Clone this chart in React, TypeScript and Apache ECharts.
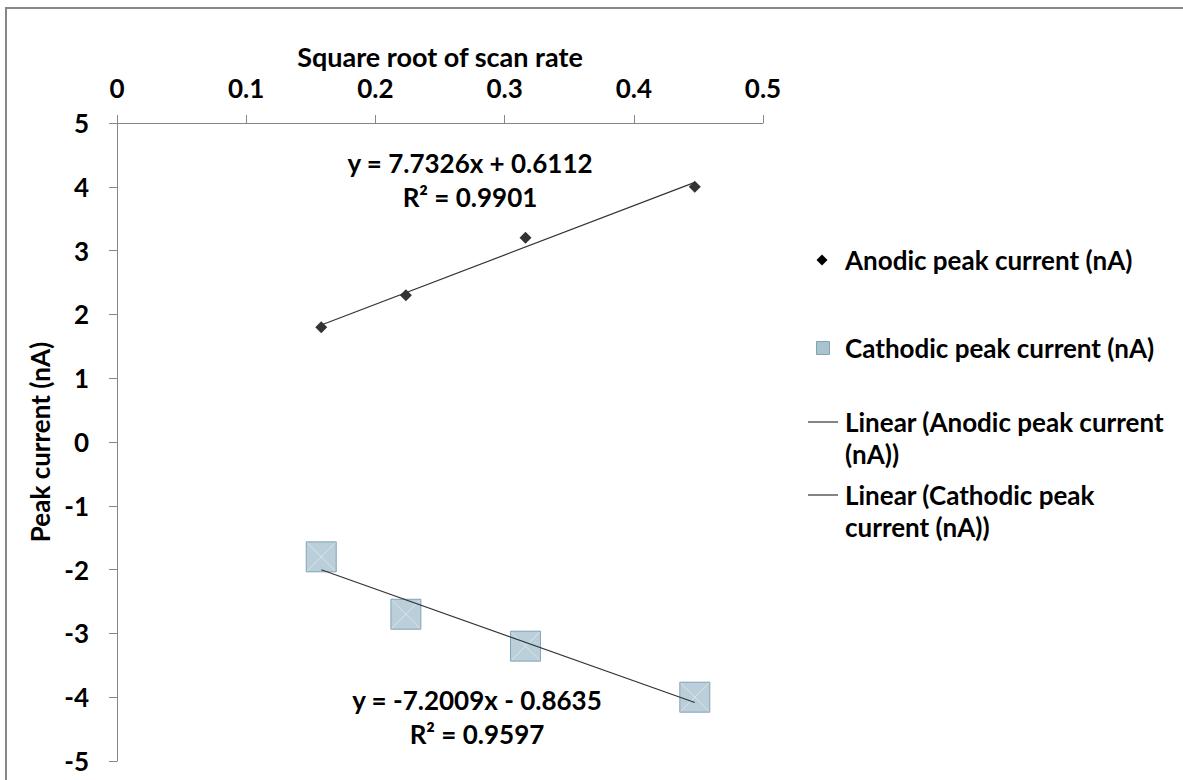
import React, { useEffect, useRef } from "react";
import * as echarts from "echarts";

// Square root of scan rate (V/s)^0.5 for the four sweeps
const SQRT_SCAN_RATE = [0.1581, 0.2236, 0.3162, 0.4472];
// Peak currents in nA
const ANODIC_PEAK = [1.8, 2.3, 3.2, 4.0];
const CATHODIC_PEAK = [-1.8, -2.7, -3.2, -4.0];
// Least-squares fits: [slope, intercept, R²]
const ANODIC_FIT = [7.7326, 0.6112, 0.9901];
const CATHODIC_FIT = [-7.2009, -0.8635, 0.9597];

const FONT = "Lato, 'Open Sans', sans-serif";
const FS = 26;
const SQUARE_FILL = "#a9c3cf";
const SQUARE_EDGE = "#6f93ac";
const TREND = "#333333";

const pairs = (ys: number[]) => SQRT_SCAN_RATE.map((x, i) => [x, ys[i]]);
const fitLine = (fit: number[]) => {
  const lo = Math.min(...SQRT_SCAN_RATE);
  const hi = Math.max(...SQRT_SCAN_RATE);
  return [lo, hi].map((x) => [x, fit[0] * x + fit[1]]);
};
const fmt = (v: number) => v.toFixed(4);
const equation = (fit: number[]) =>
  `y = ${fmt(fit[0])}x ${fit[1] < 0 ? "-" : "+"} ${fmt(Math.abs(fit[1]))}\nR² = ${fmt(fit[2])}`;

const textStyle = (extra: any) => ({
  fontFamily: FONT,
  fontSize: FS,
  fontWeight: "bold",
  fill: "#000",
  ...extra,
});

export default function App() {
  const ref = useRef<HTMLDivElement>(null);

  useEffect(() => {
    if (!ref.current) return;
    const chart = echarts.init(ref.current, undefined, { renderer: "svg" });

    const legendX = 845;
    const option: any = {
      animation: false,
      backgroundColor: "#fff",
      grid: { left: 117, top: 123, width: 646, height: 638, containLabel: false },
      xAxis: {
        type: "value",
        position: "top",
        min: 0,
        max: 0.5,
        interval: 0.1,
        name: "Square root of scan rate",
        nameLocation: "middle",
        nameGap: 50,
        nameTextStyle: { fontFamily: FONT, fontSize: 27, fontWeight: "bold", color: "#000" },
        axisLine: { show: true, onZero: false, lineStyle: { color: "#868686", width: 1 } },
        axisTick: { show: true, inside: false, length: 8, lineStyle: { color: "#868686" } },
        axisLabel: { margin: 22, fontFamily: FONT, fontSize: FS, fontWeight: "bold", color: "#000" },
        splitLine: { show: false },
      },
      yAxis: {
        type: "value",
        min: -5,
        max: 5,
        interval: 1,
        name: "Peak current (nA)",
        nameLocation: "middle",
        nameGap: 59,
        nameRotate: 90,
        nameTextStyle: { fontFamily: FONT, fontSize: 26, fontWeight: "bold", color: "#000" },
        axisLine: { show: true, onZero: false, lineStyle: { color: "#868686", width: 1 } },
        axisTick: { show: true, inside: false, length: 8, lineStyle: { color: "#868686" } },
        axisLabel: { margin: 28, fontFamily: FONT, fontSize: FS, fontWeight: "bold", color: "#000" },
        splitLine: { show: false },
      },
      series: [
        {
          name: "Anodic peak current (nA)",
          type: "scatter",
          symbol: "diamond",
          symbolSize: 12,
          itemStyle: { color: "#000" },
          data: pairs(ANODIC_PEAK),
          z: 3,
        },
        {
          name: "Cathodic peak current (nA)",
          type: "scatter",
          symbol: "rect",
          symbolSize: 30,
          itemStyle: { color: SQUARE_FILL, borderColor: SQUARE_EDGE, borderWidth: 1 },
          data: pairs(CATHODIC_PEAK),
          z: 2,
        },
        {
          // light cross hatching inside the cathodic markers
          name: "cathodic-hatch",
          type: "scatter",
          symbol: "path://M0,0L10,10M10,0L0,10",
          symbolSize: 28,
          silent: true,
          itemStyle: { color: "none", borderColor: "rgba(255,255,255,0.55)", borderWidth: 1 },
          data: pairs(CATHODIC_PEAK),
          z: 2,
        },
        {
          name: "Linear (Anodic peak current (nA))",
          type: "line",
          symbol: "none",
          lineStyle: { color: TREND, width: 1.2 },
          data: fitLine(ANODIC_FIT),
          z: 4,
        },
        {
          name: "Linear (Cathodic peak current (nA))",
          type: "line",
          symbol: "none",
          lineStyle: { color: TREND, width: 1.2 },
          data: fitLine(CATHODIC_FIT),
          z: 4,
        },
      ],
      graphic: [
        {
          type: "rect",
          silent: true,
          z: -10,
          shape: { x: 6, y: 8, width: 1400, height: 1000 },
          style: { fill: "none", stroke: "#878787", lineWidth: 2 },
        },
        // regression equations
        {
          type: "text",
          style: textStyle({ text: equation(ANODIC_FIT), x: 470, y: 180, align: "center", verticalAlign: "middle", lineHeight: 34 }),
        },
        {
          type: "text",
          style: textStyle({ text: equation(CATHODIC_FIT), x: 477, y: 717, align: "center", verticalAlign: "middle", lineHeight: 34 }),
        },
        // legend
        {
          type: "polygon",
          shape: { points: [[822, 254.5], [827.5, 260], [822, 265.5], [816.5, 260]] },
          style: { fill: "#000" },
        },
        {
          type: "text",
          style: textStyle({ text: "Anodic peak current (nA)", x: legendX, y: 260, verticalAlign: "middle" }),
        },
        {
          type: "rect",
          shape: { x: 816.5, y: 341.5, width: 13, height: 13 },
          style: { fill: SQUARE_FILL, stroke: SQUARE_EDGE, lineWidth: 0.8 },
        },
        {
          type: "text",
          style: textStyle({ text: "Cathodic peak current (nA)", x: legendX, y: 348, verticalAlign: "middle" }),
        },
        {
          type: "line",
          shape: { x1: 808, y1: 422, x2: 838, y2: 422 },
          style: { stroke: TREND, lineWidth: 1.2 },
        },
        {
          type: "text",
          style: textStyle({ text: "Linear (Anodic peak current\n(nA))", x: legendX, y: 406, verticalAlign: "top", lineHeight: 32 }),
        },
        {
          type: "line",
          shape: { x1: 808, y1: 495, x2: 838, y2: 495 },
          style: { stroke: TREND, lineWidth: 1.2 },
        },
        {
          type: "text",
          style: textStyle({ text: "Linear (Cathodic peak\ncurrent (nA))", x: legendX, y: 479, verticalAlign: "top", lineHeight: 32 }),
        },
      ],
    };

    chart.setOption(option);
    return () => chart.dispose();
  }, []);

  return (
    <div
      ref={ref}
      style={{ position: "fixed", left: 0, top: 0, width: 1183, height: 780, background: "#fff" }}
    />
  );
}
